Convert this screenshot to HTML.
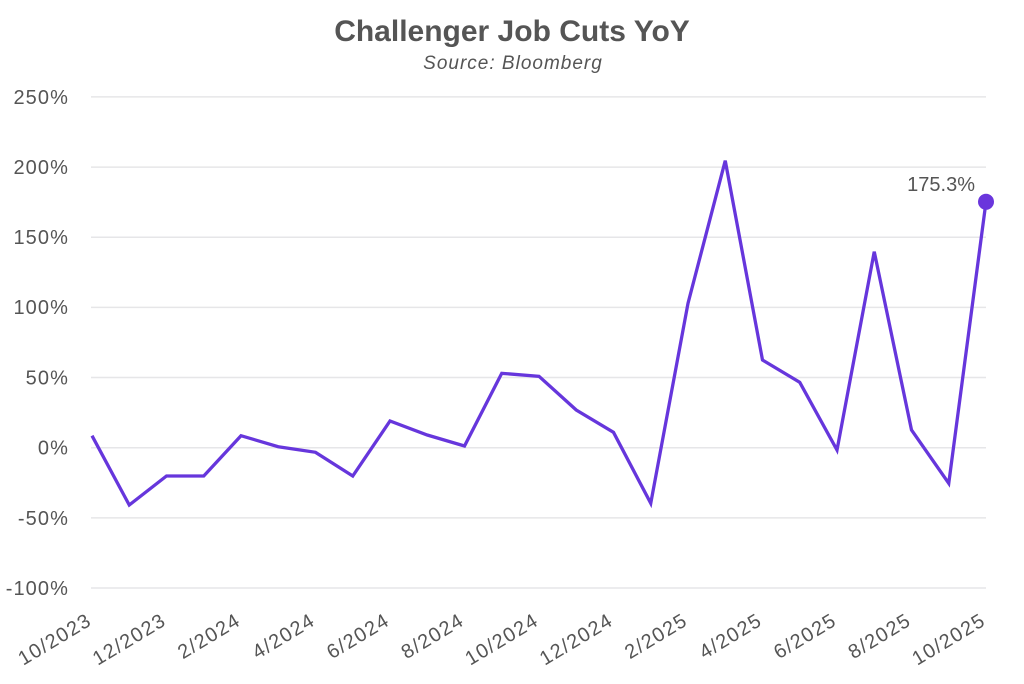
<!DOCTYPE html>
<html>
<head>
<meta charset="utf-8">
<style>
html,body{margin:0;padding:0;background:#fff;}
svg{display:block;}
text{font-family:"Liberation Sans",sans-serif;fill:#555;}
</style>
</head>
<body>
<svg width="1024" height="684" viewBox="0 0 1024 684" xmlns="http://www.w3.org/2000/svg">
<rect width="1024" height="684" fill="#fff"/>
<text x="512" y="41" text-anchor="middle" font-size="30" font-weight="bold" fill="#595959">Challenger Job Cuts YoY</text>
<text x="513" y="69" text-anchor="middle" font-size="19" font-style="italic" letter-spacing="1" fill="#555">Source: Bloomberg</text>

<g stroke="#e6e6e8" stroke-width="1.5">
<line x1="91" y1="96.9" x2="986" y2="96.9"/>
<line x1="91" y1="167.1" x2="986" y2="167.1"/>
<line x1="91" y1="237.2" x2="986" y2="237.2"/>
<line x1="91" y1="307.4" x2="986" y2="307.4"/>
<line x1="91" y1="377.5" x2="986" y2="377.5"/>
<line x1="91" y1="447.7" x2="986" y2="447.7"/>
<line x1="91" y1="517.9" x2="986" y2="517.9"/>
<line x1="91" y1="588" x2="986" y2="588"/>
</g>

<g font-size="20" text-anchor="end" letter-spacing="1.1" fill="#555">
<text x="69" y="104">250%</text>
<text x="69" y="174">200%</text>
<text x="69" y="244">150%</text>
<text x="69" y="314">100%</text>
<text x="69" y="384.5">50%</text>
<text x="69" y="454.7">0%</text>
<text x="69" y="525">-50%</text>
<text x="69" y="595">-100%</text>
</g>

<g font-size="20" text-anchor="end" letter-spacing="1.3" fill="#555">
<text transform="translate(93,624) rotate(-31)">10/2023</text>
<text transform="translate(167.5,624) rotate(-31)">12/2023</text>
<text transform="translate(242,624) rotate(-31)">2/2024</text>
<text transform="translate(316.5,624) rotate(-31)">4/2024</text>
<text transform="translate(391,624) rotate(-31)">6/2024</text>
<text transform="translate(465.5,624) rotate(-31)">8/2024</text>
<text transform="translate(540,624) rotate(-31)">10/2024</text>
<text transform="translate(614.5,624) rotate(-31)">12/2024</text>
<text transform="translate(689,624) rotate(-31)">2/2025</text>
<text transform="translate(763.5,624) rotate(-31)">4/2025</text>
<text transform="translate(838,624) rotate(-31)">6/2025</text>
<text transform="translate(912.5,624) rotate(-31)">8/2025</text>
<text transform="translate(987,624) rotate(-31)">10/2025</text>
</g>

<polyline fill="none" stroke="#6636dc" stroke-width="3.3" stroke-linejoin="miter" points="92,435.7 129.25,505 166.5,476 203.75,476 241,435.7 278.25,446.7 315.5,452.3 352.75,476 390,421 427.25,435 464.5,446 501.75,373.3 539,376.3 576.25,410 613.5,432.3 650.75,503.3 688,303.3 725.25,160.7 762.5,360 799.75,382.3 837,450 874.25,251.7 911.5,430 948.75,483.3 986,201.8"/>
<circle cx="986" cy="201.8" r="8" fill="#6a36dc"/>
<text x="975" y="191" text-anchor="end" font-size="20" fill="#444">175.3%</text>
</svg>
</body>
</html>
